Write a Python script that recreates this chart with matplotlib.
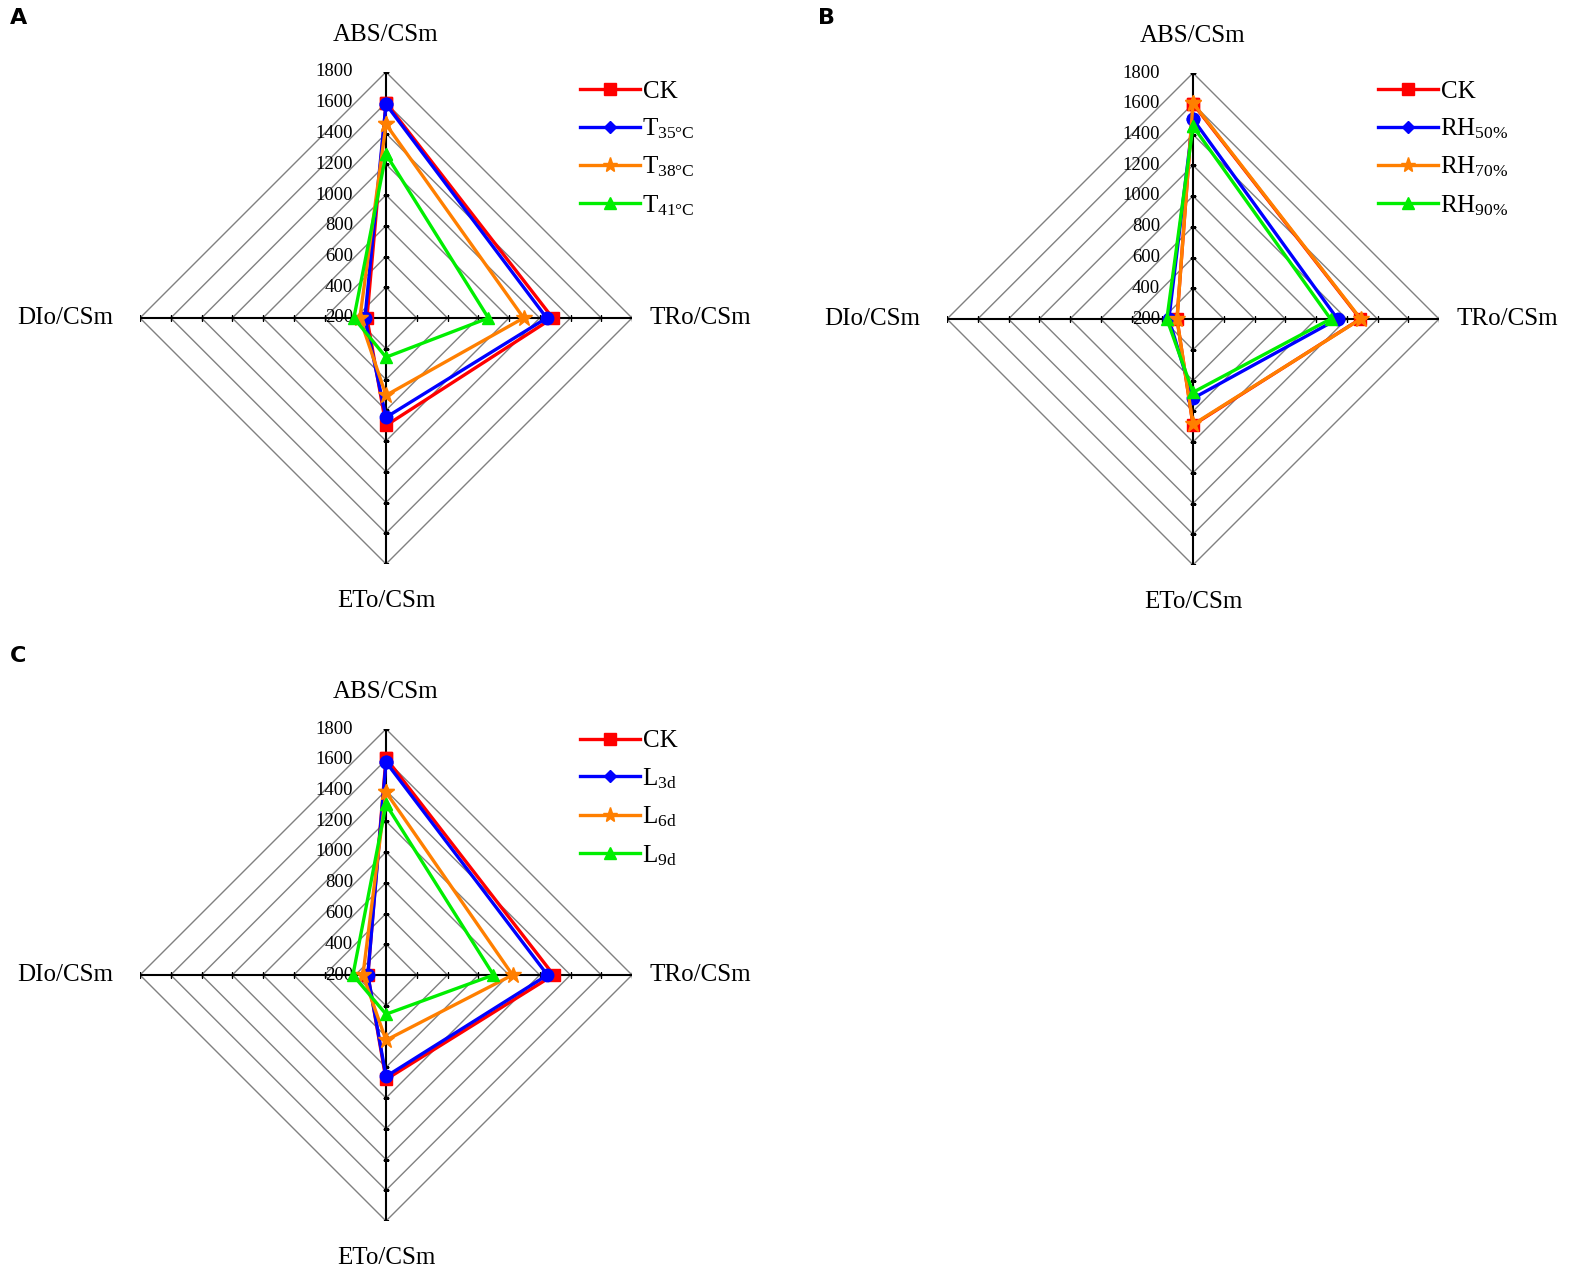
import numpy as np
import matplotlib
matplotlib.use("Agg")
import matplotlib.pyplot as plt
from matplotlib.lines import Line2D
from matplotlib.transforms import offset_copy

plt.rcParams["font.family"] = ["Liberation Serif", "DejaVu Serif"]
plt.rcParams["mathtext.fontset"] = "custom"
plt.rcParams["mathtext.rm"] = "Liberation Serif"
plt.rcParams["mathtext.it"] = "Liberation Serif:italic"

# axes order: top, right, bottom, left
axis_names = ["ABS/CSm", "TRo/CSm", "ETo/CSm", "DIo/CSm"]
ring_values = [200, 400, 600, 800, 1000, 1200, 1400, 1600, 1800]

# panel A: temperature
labels_a = ["CK", r"T$_{\mathrm{35°C}}$", r"T$_{\mathrm{38°C}}$", r"T$_{\mathrm{41°C}}$"]
ck_a = [1600, 1284, 899, 324]
t35 = [1590, 1245, 846, 337]
t38 = [1460, 1095, 703, 370]
t41 = [1265, 866, 455, 409]

# panel B: humidity
labels_b = ["CK", r"RH$_{\mathrm{50\%}}$", r"RH$_{\mathrm{70\%}}$", r"RH$_{\mathrm{90\%}}$"]
ck_b = [1600, 1288, 890, 304]
rh50 = [1500, 1140, 716, 357]
rh70 = [1605, 1291, 886, 304]
rh90 = [1454, 1095, 677, 370]

# panel C: light
labels_c = ["CK", r"L$_{\mathrm{3d}}$", r"L$_{\mathrm{6d}}$", r"L$_{\mathrm{9d}}$"]
ck_c = [1610, 1290, 879, 318]
l3 = [1585, 1250, 860, 318]
l6 = [1389, 1023, 624, 350]
l9 = [1310, 899, 455, 415]

colors = ["#FF0000", "#0000FF", "#FF7F00", "#00EE00"]
plot_markers = ["s", "o", "*", "^"]
legend_markers = ["s", "D", "*", "^"]
plot_msize = [9, 9, 12, 9]
legend_msize = [9, 6, 11, 9]

W, H = 1582, 1286
fig = plt.figure(figsize=(W / 100, H / 100), dpi=100)

angles = np.array([0, np.pi / 2, np.pi, 3 * np.pi / 2])
R = 246


def radar(cx, cy, series, labels, leg_xy):
    ax = fig.add_axes([(cx - R) / W, (H - cy - R) / H, 2 * R / W, 2 * R / H],
                      projection="polar")
    ax.set_theta_zero_location("N")
    ax.set_theta_direction(-1)
    ax.set_ylim(ring_values[0], ring_values[-1])
    ax.grid(False)
    ax.spines["polar"].set_visible(False)
    ax.set_xticks([])
    ax.set_yticks([])
    ax.patch.set_alpha(0)

    closed = np.append(angles, angles[0])
    for r in ring_values[1:]:
        ax.plot(closed, [r] * 5, color="#808080", lw=1.0, zorder=1)
    for th in angles:
        ax.plot([th, th], [ring_values[0], ring_values[-1]], color="black", lw=1.5, zorder=2)
    # small tick marks on the spokes
    ax.plot([0] * 8, ring_values[1:], ls="none", marker="_", color="black", ms=4, zorder=2)
    ax.plot([np.pi] * 8, ring_values[1:], ls="none", marker="_", color="black", ms=4, zorder=2)
    ax.plot([np.pi / 2] * 8, ring_values[1:], ls="none", marker="|", color="black", ms=4, zorder=2)
    ax.plot([3 * np.pi / 2] * 8, ring_values[1:], ls="none", marker="|", color="black", ms=4, zorder=2)

    tr = offset_copy(ax.transData, fig=fig, x=-33, y=0, units="dots")
    for r in ring_values:
        ax.text(0, r, str(r), transform=tr, ha="right", va="center",
                fontsize=13.5, zorder=3)

    for i, vals in enumerate(series):
        v = list(vals) + [vals[0]]
        ax.plot(closed, v, color=colors[i], lw=2.4, marker=plot_markers[i],
                ms=plot_msize[i], zorder=4 + i, clip_on=False)

    pos = [(0.5, 1.076), (1.138, 0.5), (0.5, -0.076), (-0.152, 0.5)]
    for name, (x, y) in zip(axis_names, pos):
        ax.text(x, y, name, transform=ax.transAxes, ha="center", va="center", fontsize=18)

    handles = [Line2D([], [], color=colors[i], lw=2.4, marker=legend_markers[i],
                      ms=legend_msize[i]) for i in range(4)]
    fig.legend(handles, labels, loc="upper left",
               bbox_to_anchor=(leg_xy[0] / W, 1 - leg_xy[1] / H),
               frameon=False, fontsize=18, handlelength=2.4, handletextpad=0.1,
               labelspacing=0.55, borderpad=0, borderaxespad=0)
    return ax


radar(386, 318, [ck_a, t35, t38, t41], labels_a, (580, 80))
radar(1193, 319, [ck_b, rh50, rh70, rh90], labels_b, (1378, 80))
radar(386, 975, [ck_c, l3, l6, l9], labels_c, (580, 730))

for txt, x, y in [("A", 10, 18), ("B", 818, 18), ("C", 10, 656)]:
    fig.text(x / W, 1 - y / H, txt, fontsize=16, fontweight="bold",
             family="DejaVu Sans", ha="left", va="center")

fig.savefig("out.png", dpi=100)
